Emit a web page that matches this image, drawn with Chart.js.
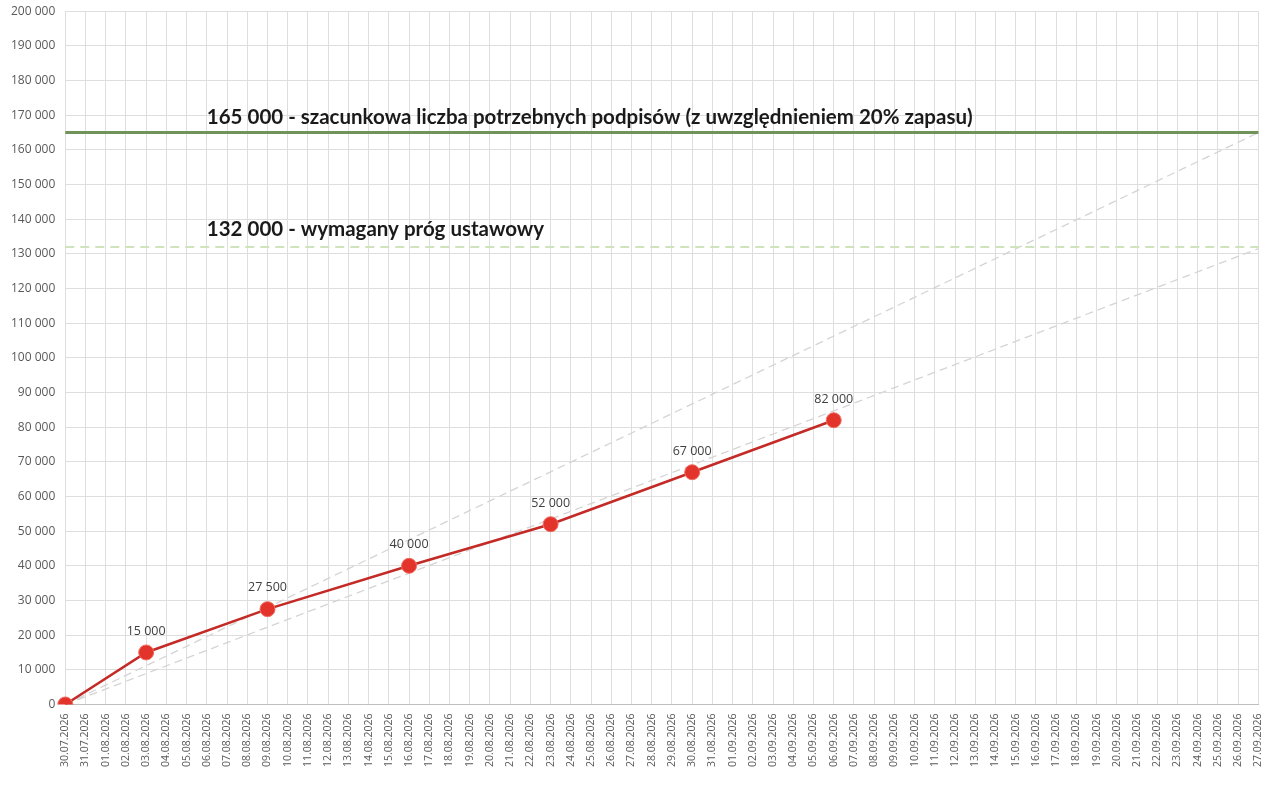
<!DOCTYPE html>
<html>
<head>
<meta charset="utf-8">
<script src="https://cdn.jsdelivr.net/npm/chart.js@4.4.1/dist/chart.umd.min.js"></script>
<style>
  html, body { margin: 0; background: #fff; overflow: hidden; }
  #wrap { width: 1280px; height: 796px; margin-top: -6px; }
</style>
</head>
<body>
<div id="wrap"><canvas id="chart"></canvas></div>
<script>
// x axis: one category per day
const dates = [
  '30.07.2026', '31.07.2026', '01.08.2026', '02.08.2026', '03.08.2026', '04.08.2026',
  '05.08.2026', '06.08.2026', '07.08.2026', '08.08.2026', '09.08.2026', '10.08.2026',
  '11.08.2026', '12.08.2026', '13.08.2026', '14.08.2026', '15.08.2026', '16.08.2026',
  '17.08.2026', '18.08.2026', '19.08.2026', '20.08.2026', '21.08.2026', '22.08.2026',
  '23.08.2026', '24.08.2026', '25.08.2026', '26.08.2026', '27.08.2026', '28.08.2026',
  '29.08.2026', '30.08.2026', '31.08.2026', '01.09.2026', '02.09.2026', '03.09.2026',
  '04.09.2026', '05.09.2026', '06.09.2026', '07.09.2026', '08.09.2026', '09.09.2026',
  '10.09.2026', '11.09.2026', '12.09.2026', '13.09.2026', '14.09.2026', '15.09.2026',
  '16.09.2026', '17.09.2026', '18.09.2026', '19.09.2026', '20.09.2026', '21.09.2026',
  '22.09.2026', '23.09.2026', '24.09.2026', '25.09.2026', '26.09.2026', '27.09.2026'
];

// collected signatures
const countDates = ['30.07.2026', '03.08.2026', '09.08.2026', '16.08.2026', '23.08.2026', '30.08.2026', '06.09.2026'];
const countValues = [0, 15000, 27500, 40000, 52000, 67000, 82000];

// reference lines
const lineDates = ['30.07.2026', '27.09.2026'];
const targetValues = [165000, 165000];
const thresholdValues = [132000, 132000];
const trendHighValues = [0, 165000];
const trendLowValues = [0, 131500];

const targetText = '165 000 - szacunkowa liczba potrzebnych podpisów (z uwzględnieniem 20% zapasu)';
const thresholdText = '132 000 - wymagany próg ustawowy';
const textAnchorDate = '06.08.2026';

const fmt = v => String(v).replace(/\B(?=(\d{3})+(?!\d))/g, ' ');
const pts = (xs, ys) => xs.map((x, i) => ({ x: x, y: ys[i] }));

const labelPlugin = {
  id: 'labels',
  afterDatasetsDraw(chart) {
    const ctx = chart.ctx;
    const x = chart.scales.x, y = chart.scales.y;
    ctx.save();
    // point values
    ctx.font = '12.5px "Open Sans", sans-serif';
    ctx.fillStyle = '#404040';
    ctx.textAlign = 'center';
    ctx.textBaseline = 'bottom';
    chart.getDatasetMeta(0).data.forEach((p, i) => {
      if (countValues[i] === 0) return;
      ctx.fillText(fmt(countValues[i]), p.x, p.y - 15);
    });
    // line captions
    ctx.font = 'bold 20.5px Lato, sans-serif';
    ctx.fillStyle = '#1a1a1a';
    ctx.textAlign = 'left';
    ctx.textBaseline = 'alphabetic';
    const tx = x.getPixelForValue(dates.indexOf(textAnchorDate));
    ctx.fillText(targetText, tx, y.getPixelForValue(targetValues[0]) - 9);
    ctx.fillText(thresholdText, tx, y.getPixelForValue(thresholdValues[0]) - 11);
    ctx.restore();
  }
};

new Chart(document.getElementById('chart'), {
  type: 'line',
  data: {
    labels: dates,
    datasets: [
      {
        data: pts(countDates, countValues),
        borderColor: '#c42a26',
        borderWidth: 2.5,
        pointBackgroundColor: '#e2342b',
        pointBorderColor: '#f26b62',
        pointBorderWidth: 1,
        pointRadius: 7.5,
        tension: 0
      },
      {
        data: pts(lineDates, targetValues),
        borderColor: '#70935a',
        borderWidth: 3,
        pointRadius: 0
      },
      {
        data: pts(lineDates, thresholdValues),
        borderColor: '#cfe3bd',
        borderWidth: 2,
        borderDash: [9, 6],
        pointRadius: 0
      },
      {
        data: pts(lineDates, trendHighValues),
        borderColor: '#d4d4d4',
        borderWidth: 1.3,
        borderDash: [8, 5],
        pointRadius: 0
      },
      {
        data: pts(lineDates, trendLowValues),
        borderColor: '#d4d4d4',
        borderWidth: 1.3,
        borderDash: [8, 5],
        pointRadius: 0
      }
    ]
  },
  options: {
    responsive: true,
    maintainAspectRatio: false,
    animation: false,
    layout: { padding: { top: 0, right: 15, bottom: 14, left: 1 } },
    plugins: { legend: { display: false }, tooltip: { enabled: false } },
    scales: {
      x: {
        offset: false,
        grid: { color: '#dedede', drawTicks: false },
        border: { color: '#bfbfbf' },
        ticks: {
          autoSkip: false,
          maxRotation: 90,
          minRotation: 90,
          padding: 9,
          color: '#595959',
          font: { family: '"Open Sans", sans-serif', size: 10.5 }
        }
      },
      y: {
        min: 0,
        max: 200000,
        grid: { color: '#dedede', drawTicks: false },
        border: { display: false },
        ticks: {
          stepSize: 10000,
          padding: 10,
          color: '#595959',
          font: { family: '"Open Sans", sans-serif', size: 12 },
          callback: v => fmt(v)
        }
      }
    }
  },
  plugins: [labelPlugin]
});
</script>
</body>
</html>
